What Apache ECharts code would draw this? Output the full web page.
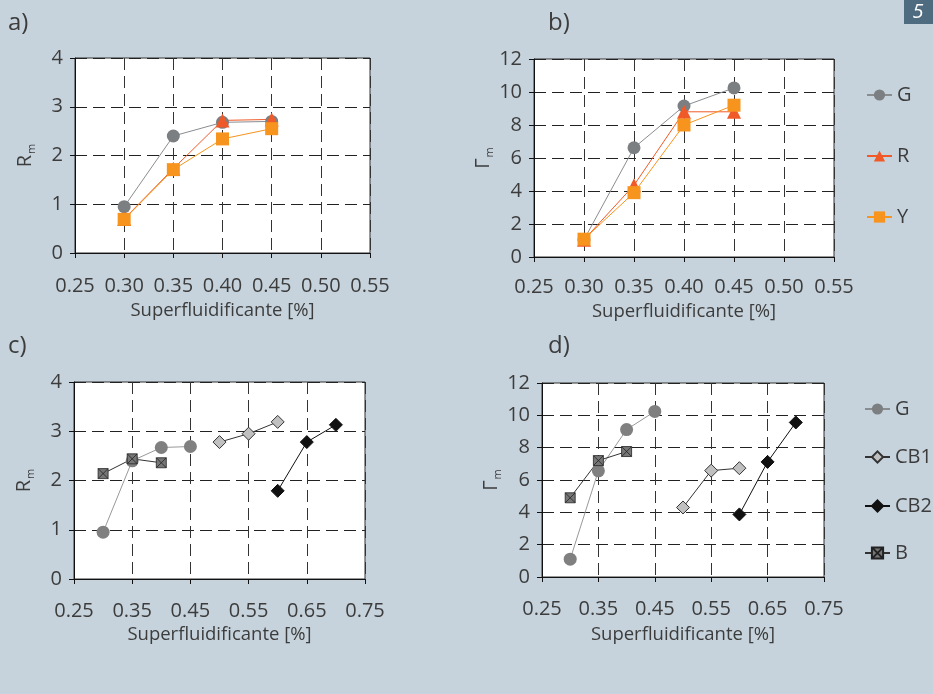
<!DOCTYPE html>
<html>
<head>
<meta charset="utf-8">
<script src="https://cdn.jsdelivr.net/npm/echarts@6/dist/echarts.min.js"></script>
<style>
html,body{margin:0;padding:0;background:#c6d3dc;}
#c{width:933px;height:694px;}
</style>
</head>
<body>
<div id="c"></div>
<script>
// ---- data ----
const pct4 = [0.30, 0.35, 0.40, 0.45];
const pctB = [0.30, 0.35, 0.40];
const pctCB1 = [0.50, 0.55, 0.60];
const pctCB2 = [0.60, 0.65, 0.70];

// panel a (Rm)
const rmG = [0.95, 2.40, 2.68, 2.70];
const rmR = [0.70, 1.73, 2.72, 2.74];
const rmY = [0.69, 1.71, 2.34, 2.55];
// panel b (Γm)
const gmG = [1.05, 6.62, 9.15, 10.25];
const gmR = [1.05, 4.35, 8.80, 8.80];
const gmY = [1.08, 3.90, 8.00, 9.20];
// panel c (Rm)
const rmGc = [0.95, 2.40, 2.67, 2.69];
const rmB = [2.14, 2.44, 2.36];
const rmCB1 = [2.78, 2.95, 3.19];
const rmCB2 = [1.79, 2.78, 3.13];
// panel d (Γm)
const gmGd = [1.10, 6.57, 9.12, 10.24];
const gmB = [4.90, 7.20, 7.76];
const gmCB1 = [4.30, 6.58, 6.73];
const gmCB2 = [3.87, 7.12, 9.56];

const panelLabels = ['a)', 'b)', 'c)', 'd)'];
const xName = 'Superfluidificante [%]';

const zip = (xs, ys) => xs.map((x, i) => [x, ys[i]]);

const FONT = 'Open Sans';
const TXT = '#3c3c3c';
const cG = '#7b7f82', cR = '#f05a28', cY = '#f7941d';
const bSym = 'path://M0,0 L10,0 L10,10 L0,10 Z M0,0 L10,10 M10,0 L0,10';

const grids = [
  {left: 75, top: 58, width: 295, height: 195},
  {left: 534, top: 59, width: 300, height: 198},
  {left: 74, top: 382, width: 291, height: 197},
  {left: 542, top: 383, width: 282, height: 194}
].map(g => Object.assign(g, {show: true, backgroundColor: '#ffffff', borderColor: '#333', borderWidth: 1}));

function xAxis(i, max, interval, margin, gap) {
  return {
    type: 'value', gridIndex: i, min: 0.25, max: max, interval: interval,
    name: xName, nameLocation: 'middle', nameGap: gap,
    nameTextStyle: {fontFamily: FONT, fontSize: 18.5, color: TXT},
    axisLine: {show: true, lineStyle: {color: '#111', width: 1}},
    axisTick: {show: true, length: 5, lineStyle: {color: '#111'}},
    axisLabel: {fontFamily: FONT, fontSize: 20, color: TXT, margin: margin,
      formatter: v => v.toFixed(2)},
    splitLine: {show: true, lineStyle: {color: '#333', type: [12, 6], width: 1}}
  };
}
function yAxis(i, max, interval, nameMain, gap) {
  return {
    type: 'value', gridIndex: i, min: 0, max: max, interval: interval,
    name: '{a|' + nameMain + '}{b|m}', nameLocation: 'middle', nameGap: gap, nameRotate: 90,
    nameTextStyle: {fontFamily: FONT, color: TXT, rich: {
      a: {fontFamily: FONT, fontSize: 20, color: TXT, lineHeight: 24},
      b: {fontFamily: FONT, fontSize: 11, color: TXT, lineHeight: 24, verticalAlign: 'bottom', padding: [9, 0, 0, 1]}
    }},
    axisLine: {show: true, lineStyle: {color: '#111', width: 1}},
    axisTick: {show: true, length: 5, lineStyle: {color: '#111'}},
    axisLabel: {fontFamily: FONT, fontSize: 20, color: TXT, margin: 12},
    splitLine: {show: true, lineStyle: {color: '#222', type: [12, 6], width: 1}}
  };
}

function ser(name, i, data, opt) {
  return Object.assign({
    name: name, type: 'line', xAxisIndex: i, yAxisIndex: i, data: data,
    symbolSize: 12, animation: false
  }, opt);
}
const gStyle = {symbol: 'circle', symbolSize: 13, itemStyle: {color: cG}, lineStyle: {color: '#8a8d90', width: 1}};
const rStyle = {symbol: 'triangle', symbolSize: 14, itemStyle: {color: cR}, lineStyle: {color: cR, width: 1}};
const yStyle = {symbol: 'rect', symbolSize: 13, itemStyle: {color: cY}, lineStyle: {color: cY, width: 1}};
const bStyle = {symbol: bSym, symbolSize: 10, itemStyle: {color: '#767676', borderColor: '#222', borderWidth: 0.8}, lineStyle: {color: '#333', width: 1}};
const cb1Style = {symbol: 'diamond', symbolSize: 13, itemStyle: {color: '#c0c0c0', borderColor: '#333', borderWidth: 1}, lineStyle: {color: '#333', width: 1}};
const cb2Style = {symbol: 'diamond', symbolSize: 13, itemStyle: {color: '#111', borderColor: '#111', borderWidth: 1}, lineStyle: {color: '#111', width: 1}};
const gcStyle = {symbol: 'circle', symbolSize: 13, itemStyle: {color: '#808080'}, lineStyle: {color: '#999', width: 1}};

const series = [
  ser('G', 0, zip(pct4, rmG), gStyle),
  ser('R', 0, zip(pct4, rmR), rStyle),
  ser('Y', 0, zip(pct4, rmY), yStyle),
  ser('G', 1, zip(pct4, gmG), gStyle),
  ser('R', 1, zip(pct4, gmR), rStyle),
  ser('Y', 1, zip(pct4, gmY), yStyle),
  ser('G', 2, zip(pct4, rmGc), gcStyle),
  ser('CB1', 2, zip(pctCB1, rmCB1), cb1Style),
  ser('CB2', 2, zip(pctCB2, rmCB2), cb2Style),
  ser('B', 2, zip(pctB, rmB), bStyle),
  ser('G', 3, zip(pct4, gmGd), gcStyle),
  ser('CB1', 3, zip(pctCB1, gmCB1), cb1Style),
  ser('CB2', 3, zip(pctCB2, gmCB2), cb2Style),
  ser('B', 3, zip(pctB, gmB), bStyle)
];

function leg(name, left, top) {
  return {data: [name], left: left, top: top, itemWidth: 25, itemHeight: 14, selectedMode: false,
    textStyle: {fontFamily: FONT, fontSize: 20, color: TXT}, itemGap: 0, padding: 0};
}
const legends = [
  leg('G', 866, 85), leg('R', 866, 146), leg('Y', 866, 207),
  leg('G', 864, 399), leg('CB1', 864, 447), leg('CB2', 864, 496), leg('B', 864, 543)
];

const labelPos = [[8, 11], [548, 11], [8, 334], [548, 334]];
const graphics = panelLabels.map((t, i) => ({
  type: 'text', left: labelPos[i][0], top: labelPos[i][1],
  style: {text: t, fontFamily: FONT, fontSize: 24, fill: TXT}
}));
graphics.push({type: 'rect', shape: {x: 904, y: 0, width: 29, height: 24}, style: {fill: '#4e6b80'}});
graphics.push({type: 'text', x: 918, y: 12, style: {text: '5', fontFamily: FONT, fontStyle: 'italic', fontSize: 20, fill: '#ffffff', align: 'center', verticalAlign: 'middle'}});

const chart = echarts.init(document.getElementById('c'));
chart.setOption({
  backgroundColor: '#c6d3dc',
  animation: false,
  grid: grids,
  xAxis: [xAxis(0, 0.55, 0.05, 23, 48), xAxis(1, 0.55, 0.05, 20, 45), xAxis(2, 0.75, 0.1, 22, 46), xAxis(3, 0.75, 0.1, 22, 48)],
  yAxis: [yAxis(0, 4, 1, 'R', 38), yAxis(1, 12, 2, 'Γ', 34), yAxis(2, 4, 1, 'R', 38), yAxis(3, 12, 2, 'Γ', 34)],
  legend: legends,
  series: series,
  graphic: graphics
});
</script>
</body>
</html>
